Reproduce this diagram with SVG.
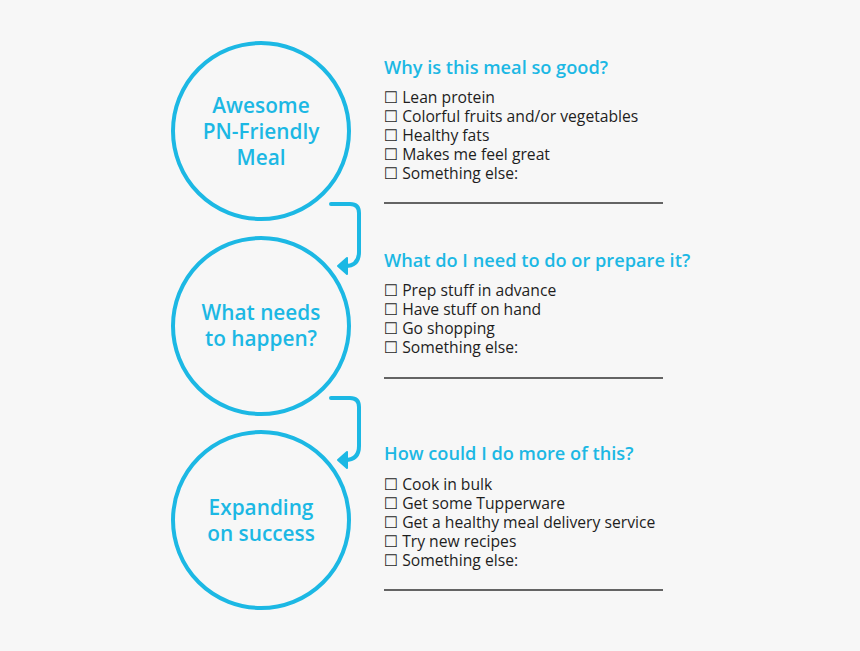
<svg xmlns="http://www.w3.org/2000/svg" width="860" height="651" viewBox="0 0 860 651">
<defs>
<style>
.circ{fill:none;stroke:#1cb8e4;stroke-width:4}
.ct{font-family:"Open Sans","DejaVu Sans",sans-serif;font-size:20.8px;font-weight:600;fill:#1cb8e4;text-anchor:middle}
.h{font-family:"Open Sans","DejaVu Sans",sans-serif;font-size:18.2px;font-weight:600;fill:#1cb8e4}
.it{font-family:"Open Sans","DejaVu Sans",sans-serif;font-size:15.7px;fill:#1e1e1e}
.rule{stroke:#333;stroke-width:1.5}
.conn{fill:none;stroke:#1cb8e4;stroke-width:4;stroke-linecap:round}
.ah{fill:#1cb8e4;stroke:#1cb8e4;stroke-width:2;stroke-linejoin:round}
</style>
</defs>
<rect width="860" height="651" fill="#f7f7f7"/>
<g id="node1">
<circle class="circ" cx="261" cy="131" r="88"/>
<text class="ct" x="261" y="113">Awesome</text>
<text class="ct" x="261" y="139">PN-Friendly</text>
<text class="ct" x="261" y="165">Meal</text>
</g>
<g id="node2">
<circle class="circ" cx="261" cy="326" r="88"/>
<text class="ct" x="261" y="320">What needs</text>
<text class="ct" x="261" y="346">to happen?</text>
</g>
<g id="node3">
<circle class="circ" cx="261" cy="520" r="88"/>
<text class="ct" x="261" y="515">Expanding</text>
<text class="ct" x="261" y="541">on success</text>
</g>
<g id="connectors">
<path class="conn" d="M331,204 H350 Q359,204 359,213 V252 Q359,266 345,266"/>
<path class="conn" d="M331,398 H350 Q359,398 359,407 V446 Q359,460 345,460"/>
<path class="ah" d="M338,266 L347,258 L347,274 z"/>
<path class="ah" d="M338,460 L347,452 L347,468 z"/>
</g>
<g id="list1">
<text class="h" x="384" y="74">Why is this meal so good?</text>
<text class="it" x="384" y="103">☐ Lean protein</text>
<text class="it" x="384" y="122">☐ Colorful fruits and/or vegetables</text>
<text class="it" x="384" y="141">☐ Healthy fats</text>
<text class="it" x="384" y="160">☐ Makes me feel great</text>
<text class="it" x="384" y="179">☐ Something else:</text>
<line class="rule" x1="384" y1="203" x2="663" y2="203"/>
</g>
<g id="list2">
<text class="h" x="384" y="267">What do I need to do or prepare it?</text>
<text class="it" x="384" y="296">☐ Prep stuff in advance</text>
<text class="it" x="384" y="315">☐ Have stuff on hand</text>
<text class="it" x="384" y="334">☐ Go shopping</text>
<text class="it" x="384" y="353">☐ Something else:</text>
<line class="rule" x1="384" y1="378" x2="663" y2="378"/>
</g>
<g id="list3">
<text class="h" x="384" y="460">How could I do more of this?</text>
<text class="it" x="384" y="490">☐ Cook in bulk</text>
<text class="it" x="384" y="509">☐ Get some Tupperware</text>
<text class="it" x="384" y="528">☐ Get a healthy meal delivery service</text>
<text class="it" x="384" y="547">☐ Try new recipes</text>
<text class="it" x="384" y="566">☐ Something else:</text>
<line class="rule" x1="384" y1="590" x2="663" y2="590"/>
</g>
</svg>
